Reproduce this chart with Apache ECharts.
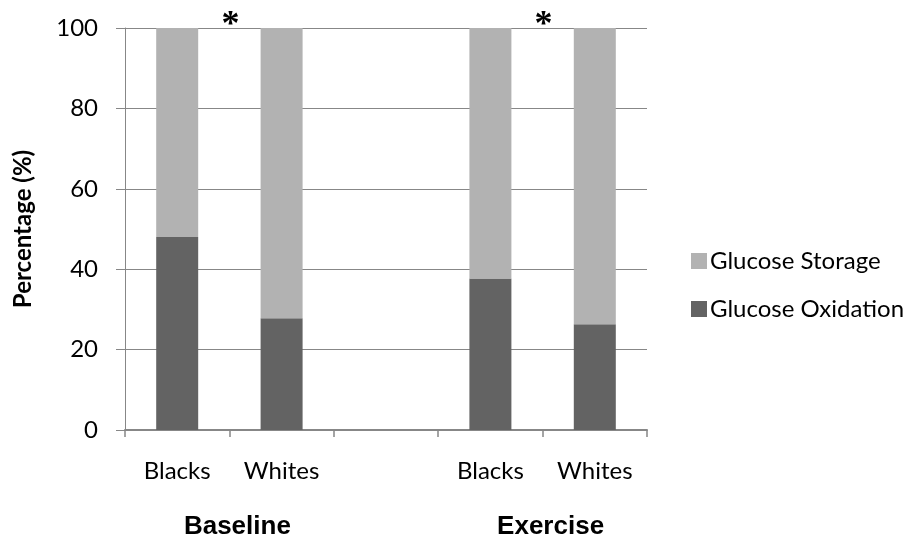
<!DOCTYPE html>
<html>
<head>
<meta charset="utf-8">
<script src="https://cdn.jsdelivr.net/npm/echarts@6/dist/echarts.min.js"></script>
<style>
html,body{margin:0;padding:0;background:#fff;}
#c{width:909px;height:539px;}
</style>
</head>
<body>
<div id="c"></div>
<script>
var categories = ['Blacks', 'Whites', '', 'Blacks', 'Whites'];
var groupLabels = ['Baseline', 'Exercise'];
var oxidation = [48, 27.8, null, 37.7, 26.3];
var storage = [52, 72.2, null, 62.3, 73.7];
var seriesNames = ['Glucose Oxidation', 'Glucose Storage'];
var yTicks = [0, 20, 40, 60, 80, 100];
var significantPairs = [[0, 1], [3, 4]];

var chart = echarts.init(document.getElementById('c'), null, {renderer: 'canvas'});
var gray = '#878787';
var option = {
  backgroundColor: '#ffffff',
  animation: false,
  grid: {left: 125, right: 262, top: 28, bottom: 109, containLabel: false},
  legend: {
    orient: 'vertical',
    left: 686,
    top: 244,
    itemWidth: 16,
    itemHeight: 16,
    itemGap: 24,
    icon: 'rect',
    data: [seriesNames[1], seriesNames[0]],
    textStyle: {fontFamily: 'Lato', fontSize: 24, color: '#000', padding: [0, 0, 0, -2]}
  },
  xAxis: {
    type: 'category',
    data: categories,
    axisLine: {lineStyle: {color: gray, width: 2}},
    axisTick: {show: true, alignWithLabel: false, length: 7, lineStyle: {color: gray, width: 1.5}},
    axisLabel: {fontFamily: 'Lato', fontSize: 24, color: '#000', margin: 29, interval: 0}
  },
  yAxis: {
    type: 'value',
    min: 0,
    max: 100,
    interval: 20,
    name: 'Percentage (%)',
    nameLocation: 'middle',
    nameRotate: 90,
    nameGap: 90,
    nameTextStyle: {fontFamily: 'Lato', fontWeight: 'bold', fontSize: 24, color: '#000'},
    axisLine: {show: true, lineStyle: {color: gray, width: 1}},
    axisTick: {show: true, length: 9, lineStyle: {color: gray}},
    splitLine: {lineStyle: {color: gray, width: 1}},
    axisLabel: {fontFamily: 'Lato', fontSize: 24, color: '#000', margin: 27,
      formatter: function (v) { return yTicks.indexOf(v) >= 0 ? String(v) : ''; }}
  },
  series: [
    {name: seriesNames[0], type: 'bar', stack: 'total', data: oxidation, barWidth: 42,
      itemStyle: {color: '#636363'}},
    {name: seriesNames[1], type: 'bar', stack: 'total', data: storage, barWidth: 42,
      itemStyle: {color: '#b2b2b2'}}
  ]
};
chart.setOption(option);

function boundaryX(i, j) {
  var a = chart.convertToPixel({xAxisIndex: 0}, i);
  var b = chart.convertToPixel({xAxisIndex: 0}, j);
  return (a + b) / 2;
}
var topY = chart.convertToPixel({yAxisIndex: 0}, 100);
var bottomY = chart.convertToPixel({yAxisIndex: 0}, 0);
var graphics = [];
significantPairs.forEach(function (p, k) {
  var bx = boundaryX(p[0], p[1]);
  graphics.push({
    type: 'text', x: bx + 1, y: topY - 2,
    style: {text: '*', font: 'bold 36px "Liberation Serif"', fill: '#000',
      align: 'center', verticalAlign: 'middle', textAlign: 'center', textVerticalAlign: 'middle'}
  });
  graphics.push({
    type: 'text', x: bx + 8, y: bottomY + 97,
    style: {text: groupLabels[k], font: 'bold 26px "Liberation Sans"', fill: '#000',
      align: 'center', verticalAlign: 'middle', textAlign: 'center', textVerticalAlign: 'middle'}
  });
});
chart.setOption({graphic: graphics});
</script>
</body>
</html>
